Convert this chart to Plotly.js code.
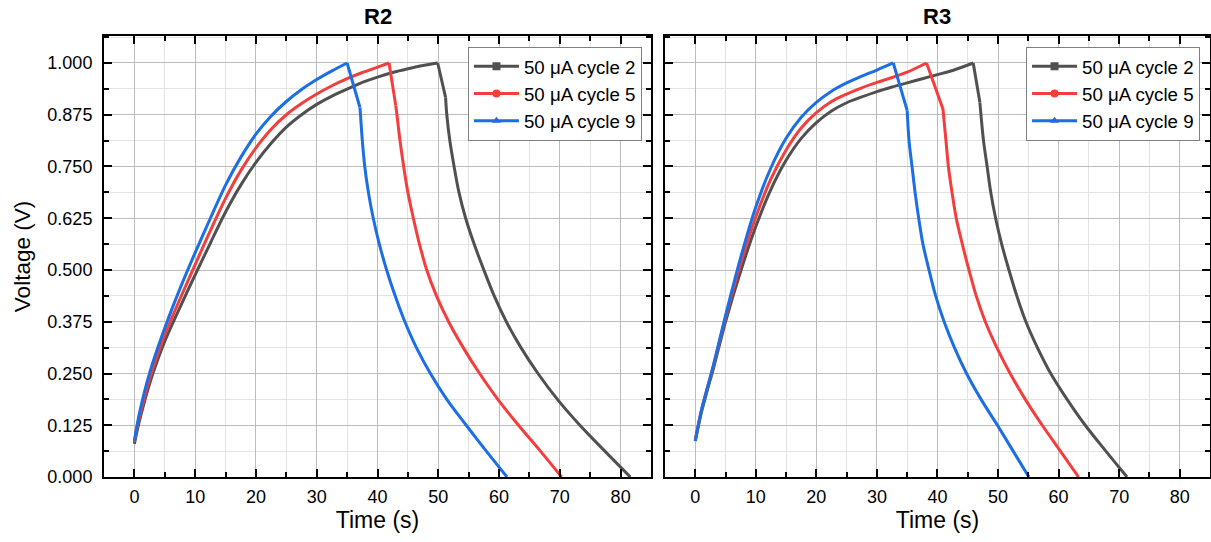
<!DOCTYPE html>
<html><head><meta charset="utf-8">
<script src="https://cdn.plot.ly/plotly-3.0.1.min.js"></script>
<style>body{margin:0;background:#fff}#chart{width:1211px;height:542px}</style>
</head><body><div id="chart"></div>
<script>
// ---- data (Time in s, Voltage in V); charge branch ends at the peak, discharge branch starts at the peak ----
const seriesNames = ['50 μA cycle 2', '50 μA cycle 5', '50 μA cycle 9'];
const panelTitles = ['R2', 'R3'];

// R2
const r2_c2_charge_t = [0,0.5,1,2,3,5,7.5,10,12.5,15,17.5,20,22.5,25,27.5,30,32.5,35,37.5,40,42.5,45,47.5,49.9];
const r2_c2_charge_v = [0.08,0.115,0.145,0.2,0.248,0.328,0.41,0.488,0.565,0.64,0.705,0.76,0.806,0.845,0.875,0.9,0.92,0.937,0.953,0.966,0.977,0.986,0.994,1.0];
const r2_c2_dis_t = [49.9,51.2,51.4,51.9,52.6,53.4,54.5,55.9,57.5,59.2,61.2,63.6,66.4,69.6,73.3,77.4,81.6];
const r2_c2_dis_v = [1.0,0.917,0.875,0.8125,0.75,0.6875,0.625,0.5625,0.5,0.4375,0.375,0.3125,0.25,0.1875,0.125,0.0625,0];

const r2_c5_charge_t = [0,0.5,1,2,3,5,7.5,10,12.5,15,17.5,20,22.5,25,27.5,30,32.5,35,37.5,40,41.9];
const r2_c5_charge_v = [0.085,0.125,0.155,0.212,0.26,0.343,0.43,0.513,0.595,0.673,0.74,0.795,0.84,0.875,0.902,0.925,0.945,0.962,0.977,0.99,1.0];
const r2_c5_dis_t = [41.9,43.0,43.2,43.7,44.3,45.0,45.9,46.9,48.1,49.7,51.7,54.1,56.8,59.8,63.2,66.8,70.3];
const r2_c5_dis_v = [1.0,0.897,0.875,0.8125,0.75,0.6875,0.625,0.5625,0.5,0.4375,0.375,0.3125,0.25,0.1875,0.125,0.0625,0];

const r2_c9_charge_t = [0,0.5,1,2,3,5,7.5,10,12.5,15,17.5,20,22.5,25,27.5,30,32.5,35];
const r2_c9_charge_v = [0.087,0.13,0.165,0.225,0.275,0.36,0.455,0.542,0.625,0.705,0.772,0.828,0.872,0.907,0.936,0.96,0.981,1.0];
const r2_c9_dis_t = [35,37.1,37.2,37.5,37.9,38.5,39.3,40.3,41.5,42.9,44.5,46.4,48.7,51.4,54.6,57.9,61.3];
const r2_c9_dis_v = [1.0,0.893,0.875,0.8125,0.75,0.6875,0.625,0.5625,0.5,0.4375,0.375,0.3125,0.25,0.1875,0.125,0.0625,0];

// R3
const r3_c2_charge_t = [0,0.5,1,2,3,5,7.5,10,12.5,15,17.5,20,22.5,25,27.5,30,32.5,35,37.5,40,42.5,45.9];
const r3_c2_charge_v = [0.087,0.122,0.155,0.21,0.262,0.375,0.497,0.605,0.695,0.765,0.818,0.856,0.884,0.904,0.918,0.931,0.942,0.952,0.962,0.972,0.982,1.0];
const r3_c2_dis_t = [45.9,47.0,47.6,48.2,48.8,49.6,50.6,51.8,53.1,54.6,56.5,58.7,61.4,64.4,67.8,71.3];
const r3_c2_dis_v = [1.0,0.905,0.8125,0.75,0.6875,0.625,0.5625,0.5,0.4375,0.375,0.3125,0.25,0.1875,0.125,0.0625,0];

const r3_c5_charge_t = [0,0.5,1,2,3,5,7.5,10,12.5,15,17.5,20,22.5,25,27.5,30,32.5,35,38.2];
const r3_c5_charge_v = [0.09,0.125,0.16,0.215,0.268,0.385,0.515,0.628,0.72,0.79,0.843,0.88,0.907,0.925,0.94,0.953,0.965,0.978,1.0];
const r3_c5_dis_t = [38.2,40.9,41.4,41.8,42.4,43.1,44.1,45.2,46.4,47.9,49.8,52.0,54.5,57.3,60.3,63.3];
const r3_c5_dis_v = [1.0,0.889,0.8125,0.75,0.6875,0.625,0.5625,0.5,0.4375,0.375,0.3125,0.25,0.1875,0.125,0.0625,0];

const r3_c9_charge_t = [0,0.5,1,2,3,5,7.5,10,12.5,15,17.5,20,22.5,25,27.5,30,32.7];
const r3_c9_charge_v = [0.087,0.125,0.16,0.215,0.27,0.39,0.53,0.652,0.747,0.818,0.869,0.905,0.932,0.952,0.968,0.983,1.0];
const r3_c9_dis_t = [32.7,35.0,35.3,35.8,36.3,36.9,37.6,38.6,39.7,41.1,42.8,44.8,47.2,49.9,52.5,55.1];
const r3_c9_dis_v = [1.0,0.885,0.8125,0.75,0.6875,0.625,0.5625,0.5,0.4375,0.375,0.3125,0.25,0.1875,0.125,0.0625,0];

// ---- styling ----
const colors = ['#505050', '#f43d3d', '#1b6ee4'];
const symbols = ['square', 'circle', 'triangle-up'];
const FONT = 'Arial, "Liberation Sans", sans-serif';

const panels = [
  {xa: 'x', ya: 'y', legend: 'legend', data: [
    [r2_c2_charge_t, r2_c2_charge_v, r2_c2_dis_t, r2_c2_dis_v],
    [r2_c5_charge_t, r2_c5_charge_v, r2_c5_dis_t, r2_c5_dis_v],
    [r2_c9_charge_t, r2_c9_charge_v, r2_c9_dis_t, r2_c9_dis_v]]},
  {xa: 'x2', ya: 'y2', legend: 'legend2', data: [
    [r3_c2_charge_t, r3_c2_charge_v, r3_c2_dis_t, r3_c2_dis_v],
    [r3_c5_charge_t, r3_c5_charge_v, r3_c5_dis_t, r3_c5_dis_v],
    [r3_c9_charge_t, r3_c9_charge_v, r3_c9_dis_t, r3_c9_dis_v]]}
];

const traces = [];
function seg(x, y, p, i, shape) {
  traces.push({x: x, y: y, xaxis: p.xa, yaxis: p.ya, type: 'scatter', mode: 'lines',
    line: {color: colors[i], width: 3, shape: shape, smoothing: 0.9}, showlegend: false, hoverinfo: 'skip'});
}
panels.forEach(p => {
  p.data.forEach((d, i) => {
    seg(d[0], d[1], p, i, 'spline');                         // charge
    seg(d[2].slice(0, 2), d[3].slice(0, 2), p, i, 'linear');   // IR drop
    seg(d[2].slice(1), d[3].slice(1), p, i, 'spline');         // discharge
  });
  seriesNames.forEach((n, i) => {
    traces.push({x: [null], y: [null], xaxis: p.xa, yaxis: p.ya, type: 'scatter', mode: 'lines+markers',
      name: n, legend: p.legend, line: {color: colors[i], width: 3},
      marker: {symbol: symbols[i], size: 8, color: colors[i]}});
  });
});

function xAxis(domain, anchor) {
  return {domain: domain, anchor: anchor, range: [-5, 85], tick0: 0, dtick: 10,
    ticks: 'inside', ticklen: 8, tickwidth: 2, tickcolor: '#000',
    showline: true, linewidth: 2, linecolor: '#000', mirror: 'ticks',
    showgrid: true, gridcolor: '#bcbcbc', gridwidth: 1, zeroline: false,
    minor: {dtick: 5, ticks: 'inside', ticklen: 5, tickwidth: 2, tickcolor: '#000', showgrid: true, gridcolor: '#e3e3e3', gridwidth: 1},
    tickfont: {family: FONT, size: 18, color: '#000'}, ticklabelstandoff: 2,
    title: {text: 'Time (s)', font: {family: FONT, size: 23, color: '#000'}, standoff: 4}};
}
function yAxis(anchor, labels, title) {
  return {anchor: anchor, range: [0, 1.0652], tick0: 0, dtick: 0.125, tickformat: '.3f',
    ticks: 'inside', ticklen: 8, tickwidth: 2, tickcolor: '#000',
    showline: true, linewidth: 2, linecolor: '#000', mirror: 'ticks',
    showgrid: true, gridcolor: '#bcbcbc', gridwidth: 1, zeroline: false,
    minor: {dtick: 0.0625, ticks: 'inside', ticklen: 5, tickwidth: 2, tickcolor: '#000', showgrid: true, gridcolor: '#e3e3e3', gridwidth: 1},
    showticklabels: labels, tickfont: {family: FONT, size: 18, color: '#000'}, ticklabelstandoff: 6,
    title: title ? {text: title, font: {family: FONT, size: 22.5, color: '#000'}, standoff: 10} : {text: ''}};
}
const legendBase = {yanchor: 'top', xanchor: 'right', bgcolor: '#ffffff', bordercolor: '#808080', borderwidth: 1,
  font: {family: FONT, size: 18.7, color: '#000'}, tracegroupgap: 0, itemwidth: 45};

const dom1 = [0, 0.4946], dom2 = [0.5072, 1];
const layout = {
  width: 1211, height: 542,
  margin: {l: 104, r: 1, t: 36, b: 65},
  paper_bgcolor: '#fff', plot_bgcolor: '#fff',
  font: {family: FONT, color: '#000'},
  xaxis: xAxis(dom1, 'y'), yaxis: yAxis('x', true, 'Voltage (V)'),
  xaxis2: xAxis(dom2, 'y2'), yaxis2: yAxis('x2', false, null),
  legend: Object.assign({x: 0.4864, y: 0.976}, legendBase),
  legend2: Object.assign({x: 0.991, y: 0.976}, legendBase),
  annotations: panelTitles.map((t, i) => ({
    text: '<b>' + t + '</b>', xref: 'paper', yref: 'paper',
    x: i === 0 ? (dom1[0] + dom1[1]) / 2 : (dom2[0] + dom2[1]) / 2, y: 1,
    xanchor: 'center', yanchor: 'bottom', yshift: 5, showarrow: false,
    font: {family: FONT, size: 22, color: '#000'}}))
};
Plotly.newPlot('chart', traces, layout, {displayModeBar: false, staticPlot: true});
</script></body></html>
